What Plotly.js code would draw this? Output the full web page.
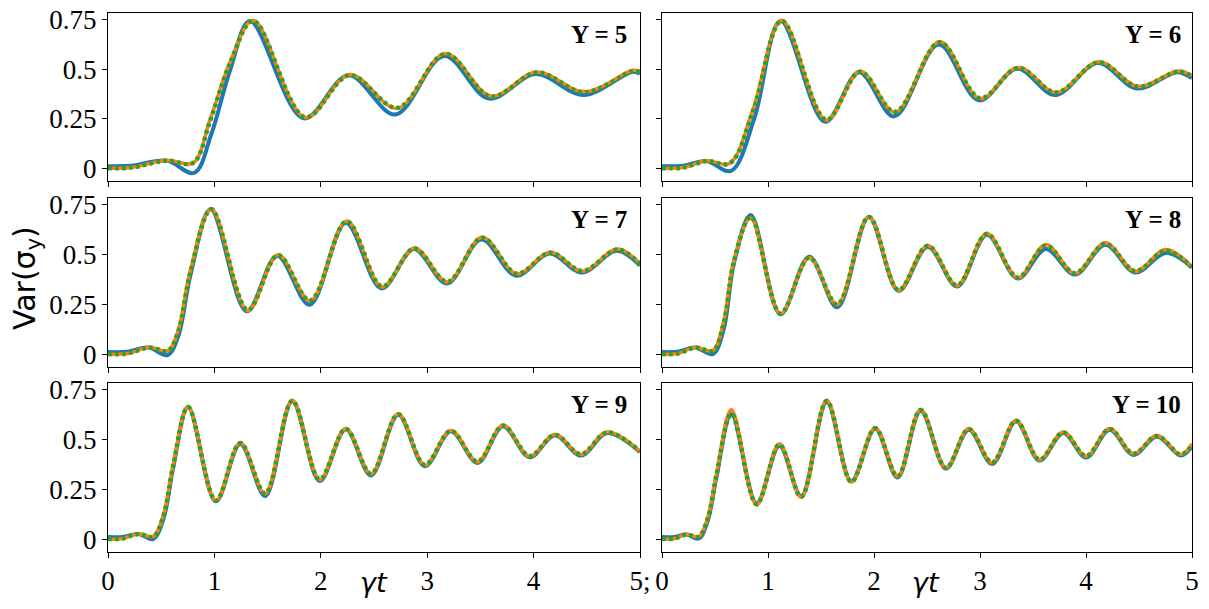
<!DOCTYPE html>
<html>
<head>
<meta charset="utf-8">
<script src="https://cdn.plot.ly/plotly-3.0.1.min.js"></script>
<style>html,body{margin:0;padding:0;background:#fff;}#chart{width:1209px;height:609px;}</style>
</head>
<body>
<div id="chart"></div>
<script>
// ---- Data (γt, Var(σ_y)) ----
const panelTitles = ["Y = 5", "Y = 6", "Y = 7", "Y = 8", "Y = 9", "Y = 10"];
const xTickVals = [0, 1, 2, 3, 4, 5];
const xTickText = ["0", "1", "2", "3", "4", "5"];
const xTickTextBottomLeft = ["0", "1", "2", "3", "4", "5;"];
const yTickVals = [0, 0.25, 0.5, 0.75];
const yTickText = ["0", "0.25", "0.5", "0.75"];

// Y = 5
const x5  = [0, 0.22, 0.55, 0.80, 0.96, 1.15, 1.365, 1.855, 2.27, 2.72, 3.17, 3.60, 4.03, 4.48, 4.93, 5.0];
const o5  = [0.0, 0.003, 0.040, 0.027, 0.245, 0.54, 0.747, 0.256, 0.474, 0.303, 0.580, 0.365, 0.487, 0.386, 0.495, 0.490];
const g5  = [0.0, 0.003, 0.038, 0.027, 0.240, 0.535, 0.745, 0.258, 0.470, 0.305, 0.578, 0.362, 0.484, 0.384, 0.490, 0.487];
const xb5 = [0, 0.22, 0.55, 0.81, 0.97, 1.15, 1.335, 1.84, 2.26, 2.70, 3.16, 3.58, 4.02, 4.47, 4.93, 5.0];
const b5  = [0.010, 0.012, 0.038, -0.024, 0.170, 0.50, 0.745, 0.252, 0.470, 0.272, 0.568, 0.352, 0.476, 0.370, 0.488, 0.478];

// Y = 6
const x6  = [0, 0.20, 0.42, 0.64, 0.86, 1.13, 1.55, 1.87, 2.20, 2.62, 3.00, 3.36, 3.72, 4.12, 4.49, 4.87, 5.0];
const o6  = [0.0, 0.003, 0.037, 0.025, 0.300, 0.748, 0.243, 0.490, 0.283, 0.640, 0.352, 0.509, 0.383, 0.538, 0.413, 0.492, 0.468];
const g6  = [0.0, 0.003, 0.036, 0.025, 0.290, 0.745, 0.245, 0.488, 0.285, 0.637, 0.354, 0.507, 0.383, 0.535, 0.413, 0.488, 0.465];
const xb6 = [0, 0.20, 0.42, 0.65, 0.87, 1.12, 1.54, 1.86, 2.19, 2.61, 2.99, 3.35, 3.71, 4.11, 4.48, 4.86, 5.0];
const b6  = [0.010, 0.012, 0.036, -0.014, 0.250, 0.745, 0.235, 0.485, 0.262, 0.625, 0.343, 0.503, 0.370, 0.532, 0.403, 0.485, 0.455];

// Y = 7
const x7  = [0, 0.18, 0.385, 0.564, 0.66, 0.776, 0.972, 1.314, 1.598, 1.90, 2.244, 2.577, 2.88, 3.19, 3.516, 3.842, 4.158, 4.46, 4.788, 5.0];
const o7  = [0.0, 0.003, 0.034, 0.017, 0.120, 0.425, 0.731, 0.219, 0.499, 0.268, 0.669, 0.337, 0.533, 0.362, 0.588, 0.403, 0.512, 0.416, 0.529, 0.455];
const g7  = [0.0, 0.003, 0.033, 0.017, 0.115, 0.415, 0.728, 0.222, 0.497, 0.270, 0.667, 0.340, 0.531, 0.364, 0.585, 0.405, 0.510, 0.418, 0.526, 0.452];
const xb7 = [0, 0.18, 0.38, 0.56, 0.66, 0.776, 0.965, 1.305, 1.59, 1.895, 2.235, 2.57, 2.875, 3.185, 3.51, 3.835, 4.15, 4.455, 4.78, 5.0];
const b7  = [0.010, 0.012, 0.033, -0.005, 0.090, 0.400, 0.728, 0.215, 0.495, 0.248, 0.660, 0.330, 0.528, 0.355, 0.576, 0.394, 0.506, 0.410, 0.520, 0.445];

// Y = 8
const x8  = [0, 0.15, 0.314, 0.48, 0.58, 0.68, 0.837, 1.118, 1.389, 1.653, 1.951, 2.232, 2.507, 2.784, 3.065, 3.356, 3.621, 3.896, 4.183, 4.464, 4.752, 5.0];
const o8  = [0.0, 0.003, 0.034, 0.017, 0.160, 0.475, 0.685, 0.202, 0.484, 0.248, 0.691, 0.320, 0.546, 0.344, 0.607, 0.383, 0.551, 0.405, 0.560, 0.416, 0.526, 0.440];
const g8  = [0.0, 0.003, 0.033, 0.017, 0.150, 0.470, 0.690, 0.204, 0.485, 0.250, 0.690, 0.322, 0.545, 0.346, 0.605, 0.385, 0.545, 0.407, 0.555, 0.418, 0.520, 0.437];
const b8  = [0.010, 0.012, 0.033, 0.0, 0.120, 0.460, 0.700, 0.200, 0.490, 0.235, 0.690, 0.318, 0.540, 0.340, 0.600, 0.380, 0.529, 0.400, 0.550, 0.410, 0.509, 0.435];

// Y = 9
const x9  = [0, 0.14, 0.287, 0.424, 0.52, 0.613, 0.753, 1.014, 1.243, 1.477, 1.732, 1.99, 2.234, 2.472, 2.727, 2.978, 3.222, 3.474, 3.712, 3.963, 4.20, 4.446, 4.69, 5.0];
const o9  = [0.0, 0.003, 0.027, 0.012, 0.120, 0.374, 0.666, 0.192, 0.484, 0.228, 0.698, 0.298, 0.556, 0.327, 0.630, 0.371, 0.546, 0.388, 0.573, 0.416, 0.526, 0.425, 0.538, 0.442];
const g9  = [0.0, 0.003, 0.026, 0.012, 0.115, 0.370, 0.664, 0.194, 0.483, 0.230, 0.696, 0.300, 0.554, 0.329, 0.628, 0.373, 0.544, 0.390, 0.571, 0.418, 0.524, 0.427, 0.536, 0.440];
const b9  = [0.010, 0.011, 0.026, 0.0, 0.100, 0.360, 0.665, 0.190, 0.478, 0.217, 0.695, 0.292, 0.552, 0.320, 0.625, 0.366, 0.542, 0.383, 0.568, 0.412, 0.522, 0.420, 0.533, 0.438];

// Y = 10
const x10 = [0, 0.12, 0.231, 0.347, 0.43, 0.513, 0.655, 0.893, 1.108, 1.313, 1.554, 1.786, 2.011, 2.222, 2.44, 2.679, 2.894, 3.115, 3.34, 3.561, 3.786, 4.001, 4.223, 4.448, 4.669, 4.894, 5.0];
const o10 = [0.0, 0.003, 0.024, 0.012, 0.105, 0.324, 0.652, 0.172, 0.479, 0.211, 0.698, 0.287, 0.560, 0.315, 0.652, 0.357, 0.556, 0.383, 0.598, 0.399, 0.539, 0.416, 0.556, 0.428, 0.521, 0.425, 0.480];
const g10 = [0.0, 0.003, 0.023, 0.012, 0.100, 0.320, 0.630, 0.175, 0.476, 0.212, 0.695, 0.288, 0.557, 0.316, 0.649, 0.358, 0.553, 0.385, 0.595, 0.400, 0.536, 0.418, 0.553, 0.430, 0.518, 0.426, 0.470];
const b10 = [0.010, 0.011, 0.023, 0.003, 0.090, 0.310, 0.630, 0.180, 0.470, 0.215, 0.690, 0.290, 0.555, 0.310, 0.645, 0.355, 0.550, 0.378, 0.592, 0.395, 0.534, 0.410, 0.550, 0.423, 0.516, 0.420, 0.465];

const panels = [
  {xb: xb5, b: b5, xo: x5, o: o5, g: g5},
  {xb: xb6, b: b6, xo: x6, o: o6, g: g6},
  {xb: xb7, b: b7, xo: x7, o: o7, g: g7},
  {xb: x8,  b: b8, xo: x8, o: o8, g: g8},
  {xb: x9,  b: b9, xo: x9, o: o9, g: g9},
  {xb: x10, b: b10, xo: x10, o: o10, g: g10}
];

// ---- Layout geometry ----
const W = 1209, H = 609;
const colDom = [[108 / W, 640 / W], [662 / W, 1192 / W]];
const rowPx = [[13, 181], [198, 367], [383, 552]];
const rowDom = rowPx.map(r => [1 - r[1] / H, 1 - r[0] / H]);

const SERIF = "Liberation Serif";
const tickFont = {family: SERIF, size: 27, color: "#000"};
const traces = [];
const layout = {
  width: W, height: H,
  margin: {l: 0, r: 0, t: 0, b: 0},
  paper_bgcolor: "#fff", plot_bgcolor: "#fff",
  showlegend: false,
  annotations: []
};

panels.forEach((p, i) => {
  const n = i + 1;
  const row = Math.floor(i / 2), col = i % 2;
  const xa = n === 1 ? "x" : "x" + n;
  const ya = n === 1 ? "y" : "y" + n;
  const common = {type: "scatter", mode: "lines", xaxis: xa, yaxis: ya, hoverinfo: "skip"};
  traces.push(Object.assign({}, common, {x: p.xb, y: p.b, line: {color: "#1f77b4", width: 4, shape: "spline", smoothing: 1}}));
  traces.push(Object.assign({}, common, {x: p.xo, y: p.o, line: {color: "#ff7f0e", width: 3.5, shape: "spline", smoothing: 1}}));
  traces.push(Object.assign({}, common, {x: p.xo, y: p.g, line: {color: "#2ca02c", width: 4.5, shape: "spline", smoothing: 1, dash: "3.5px,3.5px"}}));

  const bottom = row === 2;
  const left = col === 0;
  layout["xaxis" + (n === 1 ? "" : n)] = {
    domain: colDom[col], anchor: ya, range: [0, 5],
    tickmode: "array", tickvals: xTickVals,
    ticktext: (bottom && left) ? xTickTextBottomLeft : xTickText,
    showticklabels: bottom, ticks: "outside", ticklen: 5, tickwidth: 1, tickcolor: "#000",
    showline: true, mirror: true, linecolor: "#000", linewidth: 1,
    showgrid: false, zeroline: false, tickfont: tickFont, fixedrange: true
  };
  layout["yaxis" + (n === 1 ? "" : n)] = {
    domain: rowDom[row], anchor: xa, range: [-0.065, 0.785],
    tickmode: "array", tickvals: yTickVals, ticktext: yTickText,
    showticklabels: left, ticks: "outside", ticklen: 5, tickwidth: 1, tickcolor: "#000",
    showline: true, mirror: true, linecolor: "#000", linewidth: 1,
    showgrid: false, zeroline: false, tickfont: tickFont, fixedrange: true
  };
  layout.annotations.push({
    text: "<b>" + panelTitles[i] + "</b>",
    xref: "paper", yref: "paper",
    x: (col === 0 ? 629 : 1183) / W, xanchor: "right",
    y: 1 - (rowPx[row][0] + 21) / H, yanchor: "middle",
    showarrow: false,
    font: {family: SERIF, size: 25, color: "#000"}
  });
});

// axis labels
layout.annotations.push({
  text: "Var(σ<sub>y</sub>)", xref: "paper", yref: "paper",
  x: 26 / W, y: 1 - 278 / H, xanchor: "center", yanchor: "middle",
  textangle: -90, showarrow: false,
  font: {family: "DejaVu Sans", size: 30, color: "#000"}
});
[374, 926].forEach(cx => {
  layout.annotations.push({
    text: "<i>γt</i>", xref: "paper", yref: "paper",
    x: cx / W, y: 1 - 582 / H, xanchor: "center", yanchor: "middle",
    showarrow: false,
    font: {family: "DejaVu Sans", size: 27, color: "#000"}
  });
});

Plotly.newPlot("chart", traces, layout, {staticPlot: true, displayModeBar: false});
</script>
</body>
</html>
